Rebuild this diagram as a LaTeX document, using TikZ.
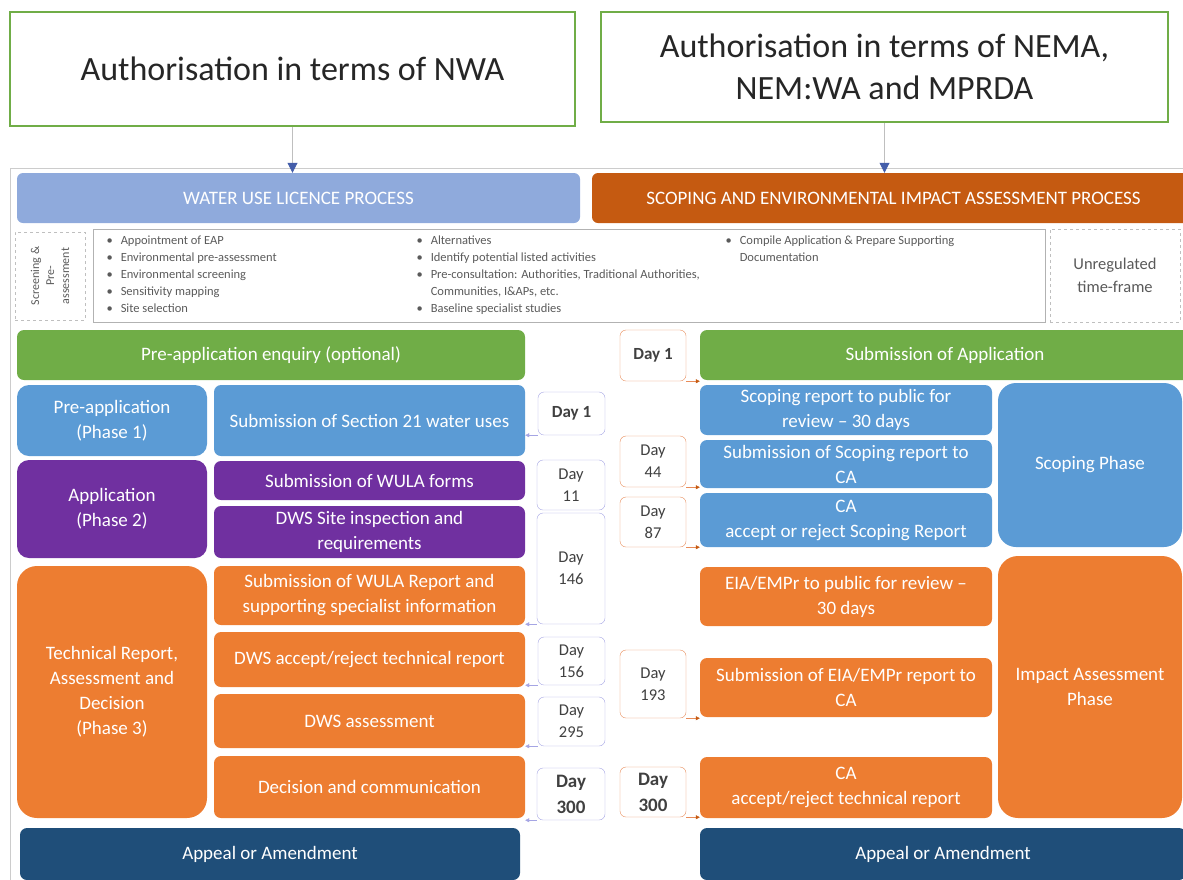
\documentclass[tikz,border=0pt]{standalone}
\usepackage{fontspec}
\setmainfont{Carlito}
\usetikzlibrary{arrows.meta}
\definecolor{hgreen}{RGB}{112,173,71}
\definecolor{wulblue}{RGB}{143,170,220}
\definecolor{eiaorange}{RGB}{197,90,17}
\definecolor{pblue}{RGB}{91,155,213}
\definecolor{ppurple}{RGB}{112,48,160}
\definecolor{porange}{RGB}{237,125,49}
\definecolor{pdark}{RGB}{31,78,121}
\definecolor{tipblue}{RGB}{68,94,170}
\definecolor{dayleft}{RGB}{165,165,228}
\definecolor{dayright}{RGB}{232,140,90}
\definecolor{txtgray}{RGB}{90,90,90}

\begin{document}
\begin{tikzpicture}[x=1pt,y=-1pt,
    head/.style={draw=hgreen, line width=1.5pt, fill=white, inner sep=0pt, align=center,
        text=black!85, font=\fontsize{34}{42}\selectfont},
    bar/.style={rounded corners=6pt, inner sep=0pt, text=white, font=\fontsize{19}{22}\selectfont},
    box/.style={rounded corners=7pt, inner sep=0pt, align=center, text=white,
        font=\fontsize{19}{25}\selectfont},
    dayl/.style={draw=dayleft, rounded corners=6pt, fill=white, inner sep=0pt, align=center,
        text=black!75, font=\fontsize{16.5}{22}\selectfont},
    dayr/.style={dayl, draw=dayright},
    tol/.style={draw=dayleft, -{Triangle[length=4pt,width=4pt]}},
    tor/.style={draw=dayright, -{Triangle[length=4pt,width=4pt,color=eiaorange]}},
    down/.style={gray!50, line width=0.8pt, -{Triangle[length=10pt,width=10pt,color=tipblue]}}]
    \useasboundingbox (0,0) rectangle (1183,879);

    % headings
    \node[head, minimum width=565pt, minimum height=114pt] (nwa) at (292.5,69) {Authorisation in terms of NWA};
    \node[head, minimum width=567pt, minimum height=110pt] (nema) at (884.5,67)
        {Authorisation in terms of NEMA,\\NEM:WA and MPRDA};
    \draw[gray!40] (10,168) rectangle (1200,900);
    \node[bar, fill=wulblue, minimum width=563pt, minimum height=50pt] (wul) at (298.5,198) {WATER USE LICENCE PROCESS};
    \node[bar, fill=eiaorange, minimum width=603pt, minimum height=50pt] (eia) at (893.5,198)
        {SCOPING AND ENVIRONMENTAL IMPACT ASSESSMENT PROCESS};
    \draw[down] (nwa.south) -- (nwa.south |- wul.north);
    \draw[down] (nema.south) -- (nema.south |- eia.north);

    % screening row
    \node[draw=gray!50, dashed, minimum width=70pt, minimum height=88pt, inner sep=0pt] (scrn) at (50,276) {};
    \node[rotate=90, align=center, text=txtgray, font=\fontsize{12}{15}\selectfont] (scrntxt) at (scrn.center)
        {Screening \&\\Pre-\\assessment};
    \node[draw=gray!60, minimum width=952pt, minimum height=93pt] (bul) at (569,275.5) {};
    \node[anchor=north west, align=left, text=txtgray, font=\fontsize{12.5}{17}\selectfont] (bul1) at (103,232)
        {\textbullet\hspace{8pt}Appointment of EAP\\
         \textbullet\hspace{8pt}Environmental pre-assessment\\
         \textbullet\hspace{8pt}Environmental screening\\
         \textbullet\hspace{8pt}Sensitivity mapping\\
         \textbullet\hspace{8pt}Site selection};
    \node[anchor=north west, align=left, text=txtgray, font=\fontsize{12.5}{17}\selectfont] (bul2) at (413,232)
        {\textbullet\hspace{8pt}Alternatives\\
         \textbullet\hspace{8pt}Identify potential listed activities\\
         \textbullet\hspace{8pt}Pre-consultation: Authorities, Traditional Authorities,\\
         \hphantom{\textbullet}\hspace{8pt}Communities, I\&APs, etc.\\
         \textbullet\hspace{8pt}Baseline specialist studies};
    \node[anchor=north west, align=left, text=txtgray, font=\fontsize{12.5}{17}\selectfont] (bul3) at (722,232)
        {\textbullet\hspace{8pt}Compile Application \& Prepare Supporting\\
         \hphantom{\textbullet}\hspace{8pt}Documentation};
    \node[draw=gray!50, dashed, minimum width=130pt, minimum height=93pt, align=center,
        text=black!65, font=\fontsize{16.5}{23}\selectfont] (unreg) at (1115,275.5) {Unregulated\\time-frame};

    % water use licence side
    \node[box, fill=hgreen, minimum width=508pt, minimum height=50pt] (preenq) at (271,355) {Pre-application enquiry (optional)};
    \node[box, fill=pblue, rounded corners=12pt, minimum width=190pt, minimum height=71pt] (ph1) at (112,420.5) {Pre-application\\(Phase 1)};
    \node[box, fill=pblue, minimum width=311pt, minimum height=71pt] (sec21) at (369.5,420.5) {Submission of Section 21 water uses};
    \node[box, fill=ppurple, rounded corners=12pt, minimum width=190pt, minimum height=98pt] (ph2) at (112,509) {Application\\(Phase 2)};
    \node[box, fill=ppurple, minimum width=311pt, minimum height=39pt] (wulaf) at (369.5,480.5) {Submission of WULA forms};
    \node[box, fill=ppurple, minimum width=311pt, minimum height=52pt] (site) at (369.5,532) {DWS Site inspection and\\requirements};
    \node[box, fill=porange, rounded corners=20pt, minimum width=190pt, minimum height=252pt] (ph3) at (112,692)
        {Technical Report,\\Assessment and\\Decision\\(Phase 3)};
    \node[box, fill=porange, minimum width=311pt, minimum height=59pt] (wularep) at (369.5,595.5)
        {Submission of WULA Report and\\supporting specialist information};
    \node[box, fill=porange, minimum width=311pt, minimum height=55pt] (dwsacc) at (369.5,659.5) {DWS accept/reject technical report};
    \node[box, fill=porange, minimum width=311pt, minimum height=54pt] (dwsass) at (369.5,721) {DWS assessment};
    \node[box, fill=porange, minimum width=311pt, minimum height=62pt] (decis) at (369.5,787) {Decision and communication};
    \node[box, fill=pdark, minimum width=500pt, minimum height=52pt] (appl) at (270,854) {Appeal or Amendment};

    % day boxes, water use licence
    \node[dayl, minimum width=67pt, minimum height=43pt, font=\fontsize{17}{22}\bfseries] (d1l) at (571.5,413.5) {Day 1};
    \node[dayl, minimum width=68pt, minimum height=50pt] (d11) at (571,485) {Day\\11};
    \node[dayl, minimum width=68pt, minimum height=111pt] (d146) at (571,568.5) {Day\\146};
    \node[dayl, minimum width=67pt, minimum height=48pt] (d156) at (571.5,661) {Day\\156};
    \node[dayl, minimum width=67pt, minimum height=49pt] (d295) at (571.5,721.5) {Day\\295};
    \node[dayl, minimum width=68pt, minimum height=52pt, font=\fontsize{19}{26}\bfseries] (d300l) at (571,794) {Day\\300};
    \draw[tol] (d1l.south west) -- (d1l.south west -| sec21.east);
    \draw[tol] (d146.south west) -- (d146.south west -| wularep.east);
    \draw[tol] (d156.south west) -- (d156.south west -| dwsacc.east);
    \draw[tol] (d295.south west) -- (d295.south west -| dwsass.east);
    \draw[tol] (d300l.south west) -- (d300l.south west -| decis.east);

    % EIA side
    \node[box, fill=hgreen, minimum width=490pt, minimum height=50pt] (subapp) at (945,355) {Submission of Application};
    \node[box, fill=pblue, minimum width=292pt, minimum height=50pt] (scprev) at (846,410) {Scoping report to public for\\review -- 30 days};
    \node[box, fill=pblue, minimum width=292pt, minimum height=48pt] (scpsub) at (846,464) {Submission of Scoping report to\\CA};
    \node[box, fill=pblue, minimum width=292pt, minimum height=54pt] (scpacc) at (846,520) {CA\\accept or reject Scoping Report};
    \node[box, fill=pblue, rounded corners=18pt, minimum width=184pt, minimum height=164pt] (scph) at (1090,465) {Scoping Phase};
    \node[box, fill=porange, minimum width=292pt, minimum height=59pt] (eiarev) at (846,596.5) {EIA/EMPr to public for review --\\30 days};
    \node[box, fill=porange, minimum width=292pt, minimum height=59pt] (eiasub) at (846,687.5) {Submission of EIA/EMPr report to\\CA};
    \node[box, fill=porange, minimum width=292pt, minimum height=61pt] (caacc) at (846,787.5) {CA\\accept/reject technical report};
    \node[box, fill=porange, rounded corners=20pt, minimum width=184pt, minimum height=262pt] (imph) at (1090,687) {Impact Assessment\\Phase};
    \node[box, fill=pdark, minimum width=486pt, minimum height=52pt] (appr) at (943,854) {Appeal or Amendment};

    % day boxes, EIA
    \node[dayr, minimum width=66pt, minimum height=51pt, font=\fontsize{17}{22}\bfseries] (d1r) at (653,355.5) {Day 1};
    \node[dayr, minimum width=66pt, minimum height=51pt] (d44) at (653,461.5) {Day\\44};
    \node[dayr, minimum width=66pt, minimum height=50pt] (d87) at (653,522) {Day\\87};
    \node[dayr, minimum width=66pt, minimum height=68pt] (d193) at (653,684) {Day\\193};
    \node[dayr, minimum width=66pt, minimum height=50pt, font=\fontsize{19}{26}\bfseries] (d300r) at (653,792) {Day\\300};
    \draw[tor] (d1r.south east) -- (d1r.south east -| subapp.west);
    \draw[tor] (d44.south east) -- (d44.south east -| scpsub.west);
    \draw[tor] (d87.south east) -- (d87.south east -| scpacc.west);
    \draw[tor] (d193.south east) -- (d193.south east -| eiasub.west);
    \draw[tor] (d300r.south east) -- (d300r.south east -| caacc.west);
\end{tikzpicture}
\end{document}
